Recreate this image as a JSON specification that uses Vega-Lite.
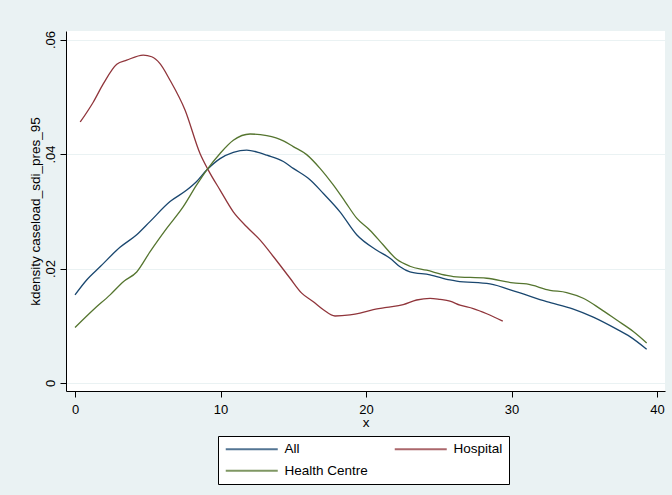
{
  "$schema": "https://vega.github.io/schema/vega-lite/v6.json",
  "width": 599,
  "height": 360,
  "autosize": {"type": "none"},
  "padding": {"left": 66, "top": 31, "right": 7, "bottom": 104},
  "background": "#EAF2F3",
  "config": {"view": {"fill": "white", "stroke": null}, "font": "Liberation Sans"},
  "datasets": {
    "dens": [
      {"series": "All", "x": 0, "y": 0.0154},
      {"series": "All", "x": 0.8, "y": 0.018},
      {"series": "All", "x": 1.72, "y": 0.0203},
      {"series": "All", "x": 3.09, "y": 0.0237},
      {"series": "All", "x": 4.24, "y": 0.0259},
      {"series": "All", "x": 5.15, "y": 0.0282},
      {"series": "All", "x": 6.53, "y": 0.0317},
      {"series": "All", "x": 7.68, "y": 0.0337},
      {"series": "All", "x": 8.36, "y": 0.0352},
      {"series": "All", "x": 9.05, "y": 0.0372},
      {"series": "All", "x": 9.97, "y": 0.0392},
      {"series": "All", "x": 10.88, "y": 0.0403},
      {"series": "All", "x": 11.8, "y": 0.0407},
      {"series": "All", "x": 12.71, "y": 0.0402},
      {"series": "All", "x": 13.18, "y": 0.0398},
      {"series": "All", "x": 14.32, "y": 0.0387},
      {"series": "All", "x": 15.0, "y": 0.0375},
      {"series": "All", "x": 16.15, "y": 0.0355},
      {"series": "All", "x": 17.07, "y": 0.0331},
      {"series": "All", "x": 18.21, "y": 0.0299},
      {"series": "All", "x": 19.36, "y": 0.0259},
      {"series": "All", "x": 20.74, "y": 0.0232},
      {"series": "All", "x": 21.65, "y": 0.0218},
      {"series": "All", "x": 22.34, "y": 0.0203},
      {"series": "All", "x": 23.02, "y": 0.0194},
      {"series": "All", "x": 24.4, "y": 0.0189},
      {"series": "All", "x": 25.77, "y": 0.018},
      {"series": "All", "x": 26.23, "y": 0.0178},
      {"series": "All", "x": 28.52, "y": 0.0173},
      {"series": "All", "x": 30.36, "y": 0.0159},
      {"series": "All", "x": 32.42, "y": 0.0142},
      {"series": "All", "x": 34.25, "y": 0.0129},
      {"series": "All", "x": 35.62, "y": 0.0115},
      {"series": "All", "x": 37.23, "y": 0.0094},
      {"series": "All", "x": 38.14, "y": 0.0081},
      {"series": "All", "x": 39.29, "y": 0.0059},
      {"series": "Hospital", "x": 0.36, "y": 0.0456},
      {"series": "Hospital", "x": 1.26, "y": 0.0491},
      {"series": "Hospital", "x": 1.95, "y": 0.0523},
      {"series": "Hospital", "x": 2.87, "y": 0.0557},
      {"series": "Hospital", "x": 3.55, "y": 0.0564},
      {"series": "Hospital", "x": 4.69, "y": 0.0573},
      {"series": "Hospital", "x": 5.27, "y": 0.057},
      {"series": "Hospital", "x": 5.84, "y": 0.0558},
      {"series": "Hospital", "x": 6.53, "y": 0.0529},
      {"series": "Hospital", "x": 7.56, "y": 0.0477},
      {"series": "Hospital", "x": 8.59, "y": 0.0401},
      {"series": "Hospital", "x": 9.16, "y": 0.0372},
      {"series": "Hospital", "x": 9.97, "y": 0.0337},
      {"series": "Hospital", "x": 10.88, "y": 0.0299},
      {"series": "Hospital", "x": 11.8, "y": 0.0273},
      {"series": "Hospital", "x": 12.71, "y": 0.025},
      {"series": "Hospital", "x": 13.63, "y": 0.0221},
      {"series": "Hospital", "x": 14.78, "y": 0.0183},
      {"series": "Hospital", "x": 15.58, "y": 0.0157},
      {"series": "Hospital", "x": 16.38, "y": 0.0142},
      {"series": "Hospital", "x": 17.07, "y": 0.0128},
      {"series": "Hospital", "x": 17.87, "y": 0.0117},
      {"series": "Hospital", "x": 18.9, "y": 0.0119},
      {"series": "Hospital", "x": 19.59, "y": 0.0122},
      {"series": "Hospital", "x": 20.5, "y": 0.0128},
      {"series": "Hospital", "x": 21.42, "y": 0.0132},
      {"series": "Hospital", "x": 22.56, "y": 0.0137},
      {"series": "Hospital", "x": 23.48, "y": 0.0145},
      {"series": "Hospital", "x": 24.4, "y": 0.0148},
      {"series": "Hospital", "x": 25.09, "y": 0.0146},
      {"series": "Hospital", "x": 25.77, "y": 0.0143},
      {"series": "Hospital", "x": 26.46, "y": 0.0136},
      {"series": "Hospital", "x": 27.37, "y": 0.013},
      {"series": "Hospital", "x": 28.3, "y": 0.0121},
      {"series": "Hospital", "x": 29.4, "y": 0.0108},
      {"series": "Health Centre", "x": 0, "y": 0.0097},
      {"series": "Health Centre", "x": 1.26, "y": 0.0128},
      {"series": "Health Centre", "x": 2.41, "y": 0.0154},
      {"series": "Health Centre", "x": 3.32, "y": 0.0177},
      {"series": "Health Centre", "x": 4.24, "y": 0.0194},
      {"series": "Health Centre", "x": 5.15, "y": 0.0229},
      {"series": "Health Centre", "x": 6.3, "y": 0.027},
      {"series": "Health Centre", "x": 7.44, "y": 0.0308},
      {"series": "Health Centre", "x": 8.36, "y": 0.0346},
      {"series": "Health Centre", "x": 9.05, "y": 0.0372},
      {"series": "Health Centre", "x": 9.97, "y": 0.0401},
      {"series": "Health Centre", "x": 10.88, "y": 0.0424},
      {"series": "Health Centre", "x": 12.03, "y": 0.0435},
      {"series": "Health Centre", "x": 13.18, "y": 0.0432},
      {"series": "Health Centre", "x": 14.32, "y": 0.0423},
      {"series": "Health Centre", "x": 15.0, "y": 0.0413},
      {"series": "Health Centre", "x": 15.92, "y": 0.0399},
      {"series": "Health Centre", "x": 16.84, "y": 0.0375},
      {"series": "Health Centre", "x": 17.75, "y": 0.0346},
      {"series": "Health Centre", "x": 18.56, "y": 0.0317},
      {"series": "Health Centre", "x": 19.36, "y": 0.0288},
      {"series": "Health Centre", "x": 20.27, "y": 0.0267},
      {"series": "Health Centre", "x": 21.19, "y": 0.0241},
      {"series": "Health Centre", "x": 22.11, "y": 0.0216},
      {"series": "Health Centre", "x": 23.02, "y": 0.0204},
      {"series": "Health Centre", "x": 24.17, "y": 0.0197},
      {"series": "Health Centre", "x": 25.55, "y": 0.0188},
      {"series": "Health Centre", "x": 26.0, "y": 0.0186},
      {"series": "Health Centre", "x": 28.3, "y": 0.0183},
      {"series": "Health Centre", "x": 30.12, "y": 0.0175},
      {"series": "Health Centre", "x": 31.04, "y": 0.0173},
      {"series": "Health Centre", "x": 32.65, "y": 0.0162},
      {"series": "Health Centre", "x": 33.79, "y": 0.0158},
      {"series": "Health Centre", "x": 34.93, "y": 0.0148},
      {"series": "Health Centre", "x": 36.08, "y": 0.013},
      {"series": "Health Centre", "x": 37.23, "y": 0.011},
      {"series": "Health Centre", "x": 38.37, "y": 0.009},
      {"series": "Health Centre", "x": 39.29, "y": 0.007}
    ]
  },
  "data": {"name": "dens"},
  "mark": {"type": "line", "strokeWidth": 1.3, "interpolate": "monotone"},
  "encoding": {
    "x": {
      "field": "x",
      "type": "quantitative",
      "scale": {"domain": [-0.62, 40.55], "nice": false, "zero": false},
      "axis": {
        "values": [0, 10, 20, 30, 40],
        "grid": false,
        "domainColor": "#000",
        "tickColor": "#000",
        "tickSize": 6,
        "labelPadding": 6,
        "labelFontSize": 13,
        "labelColor": "#000",
        "labelFlush": false,
        "labelOverlap": false,
        "title": "x",
        "titleFontSize": 13.5,
        "titleFontWeight": "normal",
        "titleColor": "#000",
        "titleY": 35,
        "titleBaseline": "alphabetic"
      }
    },
    "y": {
      "field": "y",
      "type": "quantitative",
      "scale": {"domain": [-0.0014, 0.0615], "nice": false, "zero": false},
      "axis": {
        "values": [0, 0.02, 0.04, 0.06],
        "labelExpr": "datum.value == 0 ? '0' : replace(format(datum.value, '.2f'), '0.', '.')",
        "grid": true,
        "gridColor": "#EAF2F3",
        "gridWidth": 1.2,
        "domainColor": "#000",
        "tickColor": "#000",
        "tickSize": 6,
        "labelPadding": 6,
        "labelAngle": -90,
        "labelAlign": "center",
        "labelBaseline": "alphabetic",
        "labelFontSize": 13,
        "labelColor": "#000",
        "labelFlush": false,
        "labelOverlap": false,
        "title": "kdensity caseload_sdi_pres_95",
        "titleFontSize": 13.5,
        "titleFontWeight": "normal",
        "titleColor": "#000",
        "titleAngle": -90,
        "titleX": -27,
        "titleY": 180,
        "titleAlign": "center",
        "titleBaseline": "alphabetic"
      }
    },
    "color": {
      "field": "series",
      "type": "nominal",
      "scale": {"domain": ["All", "Hospital", "Health Centre"], "range": ["#1A476F", "#90353B", "#55752F"]},
      "legend": {
        "title": null,
        "orient": "none",
        "legendX": 152,
        "legendY": 405,
        "direction": "horizontal",
        "columns": 2,
        "symbolType": "M-1,0H9.4",
        "symbolSize": 100,
        "symbolStrokeWidth": 2,
        "symbolOpacity": 0.75,
        "labelFontSize": 13.5,
        "labelColor": "#000",
        "labelOffset": 47,
        "labelLimit": 200,
        "columnPadding": 22,
        "rowPadding": 7,
        "padding": 6,
        "fillColor": "white",
        "strokeColor": "#000"
      }
    }
  }
}
